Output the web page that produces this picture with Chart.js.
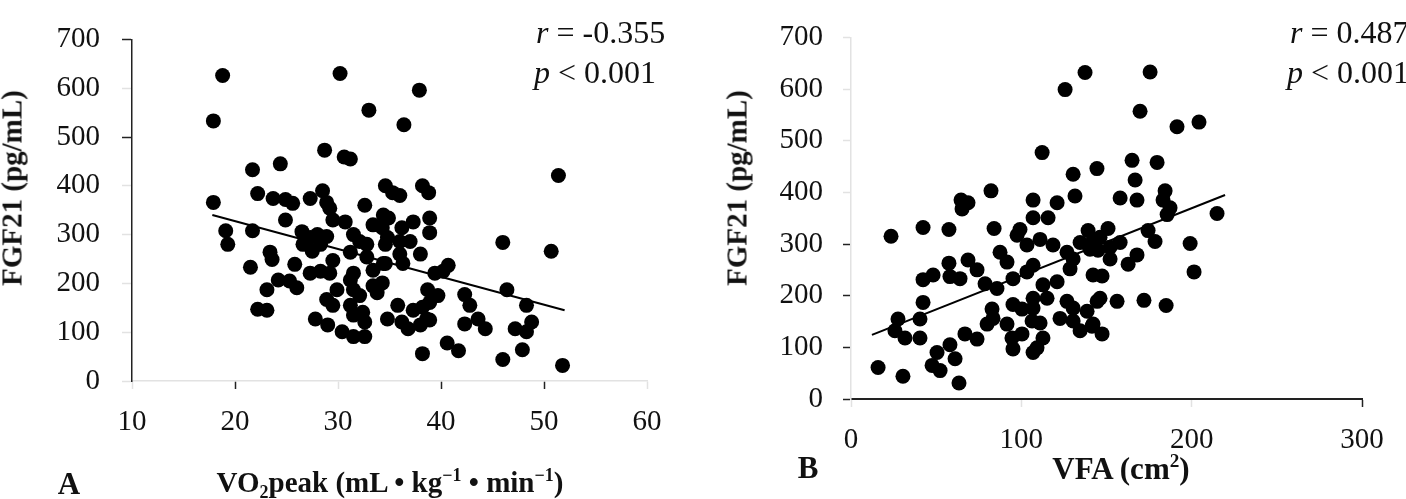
<!DOCTYPE html>
<html>
<head>
<meta charset="utf-8">
<script src="https://cdn.jsdelivr.net/npm/chart.js@4.4.0/dist/chart.umd.min.js"></script>
<style>
  html, body { margin: 0; padding: 0; background: #fff; }
  body { width: 1406px; height: 499px; position: relative; overflow: hidden;
         font-family: "Liberation Serif", "Times New Roman", serif; color: #111; }
  canvas { position: absolute; top: 0; }
  .t { position: absolute; white-space: nowrap; line-height: 1; }
  .b { font-weight: bold; font-size: 29px; }
  .c { transform: translate(-50%, -50%); }
  .yt { transform: translate(-50%, -50%) rotate(-90deg); }
  .st { font-size: 32px; }
  sub, sup { font-size: 62%; line-height: 0; }
</style>
</head>
<body>
<canvas id="chartA" width="703" height="499" style="left:0"></canvas>
<canvas id="chartB" width="703" height="499" style="left:703px"></canvas>

<div class="t b yt" style="left:12px; top:188px">FGF21 (pg/mL)</div>
<div class="t b yt" style="left:737px; top:188px">FGF21 (pg/mL)</div>
<div class="t b c" style="left:390px; top:482px">VO<sub>2</sub>peak (mL • kg<sup>−1</sup> • min<sup>−1</sup>)</div>
<div class="t b c" style="left:1121px; top:468px; font-size:31px">VFA (cm<sup>2</sup>)</div>
<div class="t b c" style="left:69px; top:483px; font-size:31px">A</div>
<div class="t b c" style="left:808px; top:467px; font-size:31px">B</div>
<div class="t st" style="left:536px; top:16px"><i>r</i> = -0.355</div>
<div class="t st" style="left:534px; top:56px"><i>p</i> &lt; 0.001</div>
<div class="t st" style="left:1290px; top:16px"><i>r</i> = 0.487</div>
<div class="t st" style="left:1287px; top:56px"><i>p</i> &lt; 0.001</div>

<script>
// panel A: VO2peak vs FGF21
const aVo2 = [18.8,30.2,33.0,17.9,28.7,30.6,31.2,21.7,24.4,34.6,
  17.9,22.2,23.7,24.9,25.6,27.3,28.5,28.9,32.6,37.9,
  36.4,51.4,35.3,36.0,38.2,38.8,29.2,24.9,21.7,19.1,
  19.3,23.4,23.6,21.5,25.8,24.2,25.3,26.0,23.1,22.2,
  23.1,27.8,29.0,30.4,31.5,32.6,26.5,27.3,28.0,28.9,
  29.5,30.7,31.5,32.1,32.8,33.4,34.4,34.8,26.6,27.5,
  28.3,29.5,31.2,31.5,32.8,33.4,34.4,27.3,28.3,29.2,
  29.9,31.2,31.5,32.1,33.4,33.8,34.8,28.9,29.5,31.2,
  31.5,32.4,32.6,34.9,37.3,38.9,38.9,36.2,34.3,34.6,
  36.0,37.0,38.0,36.0,36.3,34.6,40.7,39.4,40.2,46.0,
  50.7,34.3,38.7,39.7,38.9,42.3,42.8,46.4,48.3,35.8,
  37.3,38.2,38.6,36.2,36.8,38.0,38.9,42.3,43.6,44.3,
  47.2,48.3,48.8,40.6,41.7,38.2,46.0,47.9,51.8];
const aFgf = [626,630,555,533,473,459,455,433,445,400,
  366,384,374,372,364,374,390,366,360,596,
  525,421,386,380,400,386,354,330,308,308,
  280,264,249,233,239,207,205,191,187,147,
  145,127,115,101,91,91,306,294,300,296,
  330,326,300,286,280,320,340,294,280,266,
  280,247,264,221,254,227,241,221,225,221,
  187,207,187,175,195,181,127,167,155,155,
  135,141,121,334,326,334,304,314,314,280,
  286,286,260,260,241,241,237,221,225,284,
  266,201,187,175,161,177,155,187,155,155,
  145,151,127,121,107,115,125,117,127,107,
  107,101,121,78,62,56,44,64,32];
const fitAx = [17.8, 52.0];
const fitAy = [340, 145];

// panel B: VFA vs FGF21
const bVfa = [137.4,125.7,112.2,130.4,144.4,82.2,64.6,68.7,106.9,121.0,
  131.5,175.6,169.7,191.4,204.3,165.0,179.7,166.8,158.0,167.9,
  184.4,183.2,65.2,42.3,23.5,57.5,84.0,99.2,106.9,115.7,
  139.2,146.2,87.5,91.6,97.5,103.3,111.0,118.6,126.8,130.4,
  134.5,140.3,68.7,74.0,57.5,42.3,48.2,58.1,64.0,78.7,
  85.7,95.1,103.3,106.9,112.7,121.0,128.6,42.3,40.5,95.1,
  100.4,106.9,106.9,115.1,126.8,130.4,138.6,144.5,27.6,25.8,
  31.7,40.5,82.8,83.4,79.9,91.6,106.3,111.0,122.7,130.4,
  134.5,142.1,66.9,74.0,94.5,95.1,100.4,112.7,109.2,106.9,
  58.1,50.5,61.1,47.6,52.3,15.9,30.5,63.4,187.3,185.6,
  214.9,150.9,141.5,145.0,152.1,158.0,152.1,174.4,178.5,199.1,
  201.4,167.9,162.7,142.1,147.4,146.2,156.2,172.0,185.0,141.5,
  147.4];
const bFgf = [632,599,477,435,446,403,385,380,385,380,
  393,633,557,527,536,462,458,424,389,385,
  403,385,368,332,315,328,330,328,351,351,
  326,313,284,265,317,298,309,298,284,271,
  303,290,269,250,263,231,240,237,233,223,
  214,233,246,259,221,227,252,187,155,183,
  174,195,176,195,189,176,170,189,155,132,
  118,118,174,156,145,145,151,147,156,151,
  132,145,126,116,118,97,126,118,99,90,
  105,90,78,65,55,61,44,31,370,357,
  359,330,303,288,294,303,271,326,305,301,
  246,279,261,240,238,195,189,191,181,141,
  126];
const fitBx = [12.3, 219.6];
const fitBy = [124, 395];

// tick labels
const yTicks = [0, 100, 200, 300, 400, 500, 600, 700];
const aXTicks = [10, 20, 30, 40, 50, 60];
const bXTicks = [0, 100, 200, 300];

const tickFont = { family: '"Liberation Serif", "Times New Roman", serif', size: 29 };
const DARK = '#222';
const FAINT = '#e2e2e2';

function makeChart(id, xs, ys, fx, fy, xTicks, o) {
  const pts = xs.map((x, i) => ({ x: x, y: ys[i] }));
  const fit = fx.map((x, i) => ({ x: x, y: fy[i] }));
  return new Chart(document.getElementById(id), {
    type: 'scatter',
    data: {
      datasets: [
        { data: fit, showLine: true, borderColor: '#000', borderWidth: 2, pointRadius: 0, fill: false },
        { data: pts, backgroundColor: '#000', borderWidth: 0, pointRadius: 7.5, pointHoverRadius: 7.5 }
      ]
    },
    options: {
      responsive: false,
      animation: false,
      devicePixelRatio: 1,
      layout: { padding: o.padding },
      plugins: { legend: { display: false }, tooltip: { enabled: false } },
      scales: {
        x: {
          type: 'linear',
          min: xTicks[0],
          max: xTicks[xTicks.length - 1],
          afterBuildTicks: s => { s.ticks = xTicks.map(v => ({ value: v })); },
          afterFit: s => { s.height = o.xh; },
          border: { display: true, color: o.xBorder, width: o.xBorderW },
          grid: {
            drawOnChartArea: false, drawTicks: true, tickLength: 8, tickWidth: 1.5,
            tickColor: ctx => o.xDark.includes(ctx.tick.value) ? DARK : FAINT
          },
          ticks: { font: tickFont, color: '#111', padding: 16, maxRotation: 0, autoSkip: false }
        },
        y: {
          type: 'linear',
          min: 0,
          max: 700,
          afterBuildTicks: s => { s.ticks = yTicks.map(v => ({ value: v })); },
          afterFit: s => { s.width = o.yw; },
          border: { display: true, color: o.yBorder, width: o.yBorderW },
          grid: {
            drawOnChartArea: false, drawTicks: true, tickLength: o.ytl, tickWidth: 1.5,
            tickColor: ctx => o.yDark.includes(ctx.tick.value) ? DARK : FAINT
          },
          ticks: { font: tickFont, color: '#111', padding: o.ypad, autoSkip: false }
        }
      }
    }
  });
}

makeChart('chartA', aVo2, aFgf, fitAx, fitAy, aXTicks, {
  padding: { left: 0, right: 56, top: 29, bottom: 0 },
  xh: 118, yw: 132, ytl: 10, ypad: 22,
  xBorder: FAINT, xBorderW: 1.5, yBorder: DARK, yBorderW: 1.5,
  xDark: [20, 40, 50], yDark: [500, 700]
});

makeChart('chartB', bVfa, bFgf, fitBx, fitBy, bXTicks, {
  padding: { left: 0, right: 44, top: 32, bottom: 0 },
  xh: 100, yw: 148, ytl: 8, ypad: 20,
  xBorder: DARK, xBorderW: 2, yBorder: FAINT, yBorderW: 1.5,
  xDark: [300], yDark: [0, 100, 200, 300]
});
</script>
</body>
</html>
